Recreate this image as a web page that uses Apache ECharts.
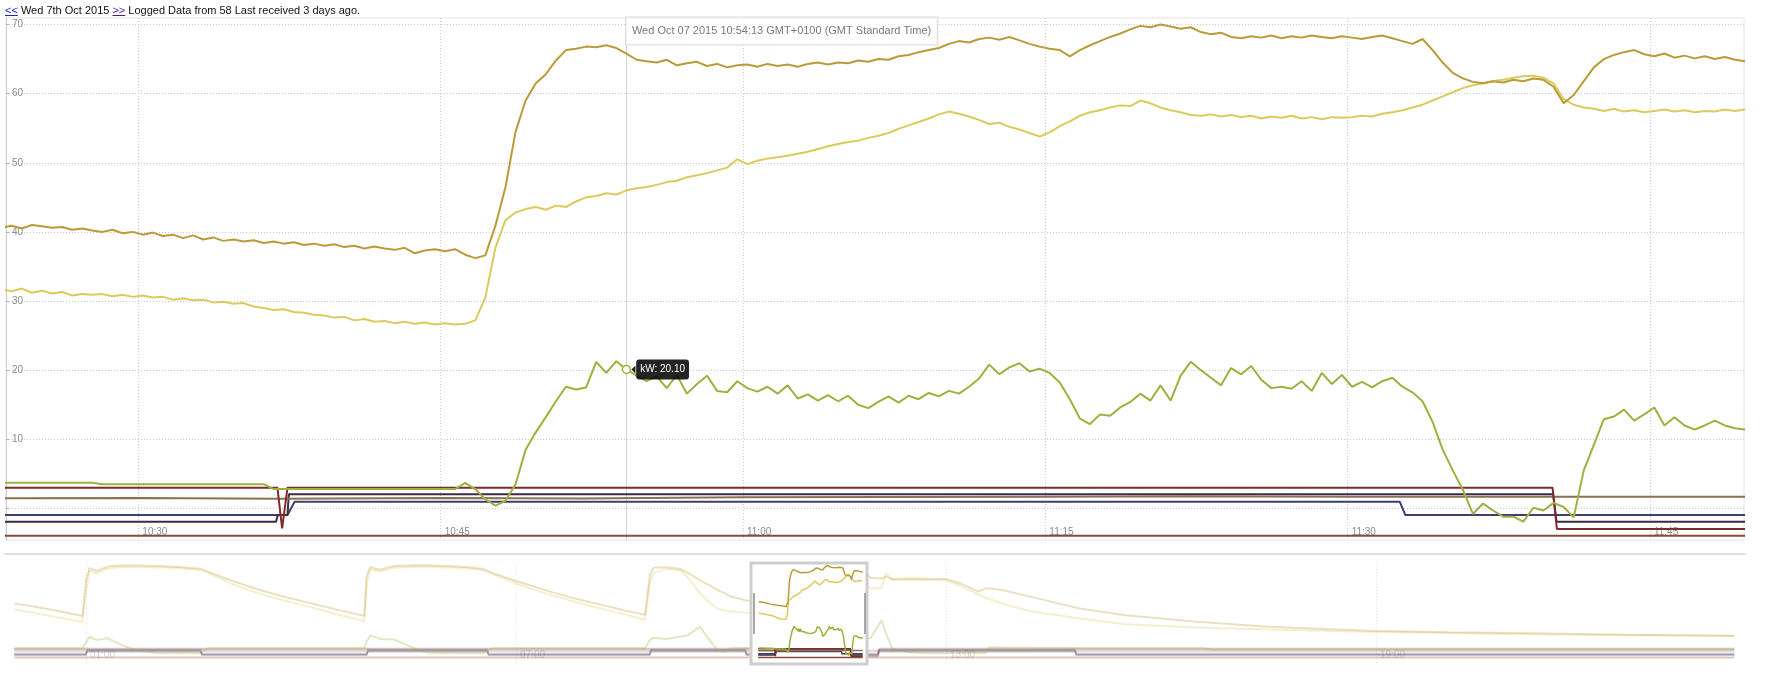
<!DOCTYPE html>
<html><head><meta charset="utf-8">
<script src="https://cdn.jsdelivr.net/npm/echarts@6/dist/echarts.min.js"></script>
<style>
html,body{margin:0;padding:0;background:#fff;}
#chart{position:absolute;left:0;top:0;width:1765px;height:674px;}
#hdr{position:absolute;left:5px;top:3px;font-family:'Liberation Sans',Arial,sans-serif;font-size:11px;line-height:14px;color:#111;white-space:nowrap;z-index:2;}
#hdr a{text-decoration:underline;}
</style></head><body>
<div id="chart"></div>
<div id="hdr"><a style="color:#2323b8">&lt;&lt;</a> Wed 7th Oct 2015 <a style="color:#551a8b">&gt;&gt;</a> Logged Data from 58 Last received 3 days ago.</div>
<script>
// ---------- main window data (30 s samples, local time BST) ----------
const times = [
'10:23:13','10:23:43','10:24:13','10:24:43','10:25:13','10:25:43','10:26:13','10:26:43','10:27:13','10:27:43',
'10:28:13','10:28:43','10:29:13','10:29:43','10:30:13','10:30:43','10:31:13','10:31:43','10:32:13','10:32:43',
'10:33:13','10:33:43','10:34:13','10:34:43','10:35:13','10:35:43','10:36:13','10:36:43','10:37:13','10:37:43',
'10:38:13','10:38:43','10:39:13','10:39:43','10:40:13','10:40:43','10:41:13','10:41:43','10:42:13','10:42:43',
'10:43:13','10:43:43','10:44:13','10:44:43','10:45:13','10:45:43','10:46:13','10:46:43','10:47:13','10:47:43',
'10:48:13','10:48:43','10:49:13','10:49:43','10:50:13','10:50:43','10:51:13','10:51:43','10:52:13','10:52:43',
'10:53:13','10:53:43','10:54:13','10:54:43','10:55:13','10:55:43','10:56:13','10:56:43','10:57:13','10:57:43',
'10:58:13','10:58:43','10:59:13','10:59:43','11:00:13','11:00:43','11:01:13','11:01:43','11:02:13','11:02:43',
'11:03:13','11:03:43','11:04:13','11:04:43','11:05:13','11:05:43','11:06:13','11:06:43','11:07:13','11:07:43',
'11:08:13','11:08:43','11:09:13','11:09:43','11:10:13','11:10:43','11:11:13','11:11:43','11:12:13','11:12:43',
'11:13:13','11:13:43','11:14:13','11:14:43','11:15:13','11:15:43','11:16:13','11:16:43','11:17:13','11:17:43',
'11:18:13','11:18:43','11:19:13','11:19:43','11:20:13','11:20:43','11:21:13','11:21:43','11:22:13','11:22:43',
'11:23:13','11:23:43','11:24:13','11:24:43','11:25:13','11:25:43','11:26:13','11:26:43','11:27:13','11:27:43',
'11:28:13','11:28:43','11:29:13','11:29:43','11:30:13','11:30:43','11:31:13','11:31:43','11:32:13','11:32:43',
'11:33:13','11:33:43','11:34:13','11:34:43','11:35:13','11:35:43','11:36:13','11:36:43','11:37:13','11:37:43',
'11:38:13','11:38:43','11:39:13','11:39:43','11:40:13','11:40:43','11:41:13','11:41:43','11:42:13','11:42:43',
'11:43:13','11:43:43','11:44:13','11:44:43','11:45:13','11:45:43','11:46:13','11:46:43','11:47:13','11:47:43',
'11:48:13','11:48:43','11:49:13','11:49:43','11:50:13'
];
const tempHigh = [
40.6,40.9,40.5,41.0,40.8,40.6,40.7,40.3,40.5,40.2,
40.0,40.3,39.8,40.0,39.6,39.9,39.4,39.6,39.1,39.5,
38.9,39.2,38.7,38.9,38.6,38.8,38.4,38.6,38.3,38.5,
38.1,38.3,38.0,38.2,37.8,38.0,37.6,37.9,37.6,37.4,
37.7,36.9,37.3,37.5,37.2,37.5,36.7,36.2,36.6,40.9,
46.5,54.5,59.0,61.5,62.8,64.8,66.3,66.5,66.8,66.7,
67.0,66.6,65.8,64.9,64.7,64.5,64.9,64.1,64.4,64.6,
64.0,64.3,63.8,64.1,64.2,63.9,64.3,64.0,64.2,63.9,
64.3,64.5,64.2,64.5,64.4,64.8,64.6,65.0,64.9,65.4,
65.6,66.0,66.3,66.6,67.2,67.6,67.4,67.9,68.1,67.8,
68.2,67.7,67.2,66.8,66.5,66.3,65.4,66.3,67.0,67.6,
68.2,68.7,69.3,69.8,69.6,70.0,69.7,69.4,69.6,68.9,
68.6,68.8,68.2,68.0,68.3,68.1,68.4,68.0,68.3,68.1,
68.4,68.2,68.0,68.3,68.1,67.9,68.2,68.4,68.0,67.6,
67.2,67.9,66.3,64.5,63.0,62.2,61.7,61.5,61.8,61.6,
62.0,61.8,62.2,62.0,61.0,58.6,59.8,61.8,63.8,65.0,
65.6,66.0,66.3,65.7,65.4,65.8,65.2,65.5,65.1,65.4,
65.0,65.3,64.9,64.7,64.6
];
const tempLow = [
31.7,31.4,31.8,31.2,31.5,31.1,31.3,30.8,31.0,30.9,
31.0,30.7,30.9,30.6,30.8,30.5,30.6,30.2,30.4,30.1,
30.2,29.8,29.9,29.6,29.7,29.2,29.0,28.7,28.8,28.4,
28.3,28.0,27.9,27.6,27.7,27.2,27.4,27.0,27.1,26.8,
27.0,26.7,26.9,26.6,26.8,26.6,26.7,27.2,30.5,37.7,
41.7,42.8,43.3,43.6,43.2,43.8,43.6,44.4,45.0,45.2,
45.6,45.4,46.0,46.3,46.5,46.8,47.2,47.4,47.9,48.2,
48.5,48.9,49.3,50.5,49.8,50.3,50.6,50.8,51.0,51.3,
51.6,52.0,52.4,52.7,53.0,53.2,53.6,53.9,54.3,54.9,
55.4,55.9,56.4,57.0,57.4,57.1,56.7,56.2,55.6,55.8,
55.2,54.8,54.3,53.8,54.4,55.3,56.0,56.8,57.3,57.6,
58.0,58.3,58.2,59.0,58.6,58.0,57.6,57.3,56.9,56.8,
57.0,56.7,56.9,56.6,56.8,56.4,56.7,56.5,56.8,56.4,
56.6,56.3,56.6,56.5,56.6,56.8,56.7,57.1,57.3,57.6,
58.0,58.4,59.0,59.6,60.2,60.8,61.2,61.5,61.8,62.0,
62.3,62.5,62.6,62.3,61.5,59.2,58.4,58.0,57.8,57.5,
57.8,57.4,57.6,57.3,57.5,57.7,57.4,57.6,57.3,57.5,
57.4,57.7,57.5,57.7,57.6
];
const kW = [
3.7,3.7,3.7,3.7,3.7,3.7,3.7,3.7,3.7,3.7,
3.5,3.5,3.5,3.5,3.5,3.5,3.5,3.5,3.5,3.5,
3.5,3.5,3.5,3.5,3.5,3.5,3.5,2.8,2.8,2.8,
2.8,2.8,2.8,2.8,2.8,2.8,2.8,2.8,2.8,2.8,
2.8,2.8,2.8,2.8,2.8,2.8,3.7,2.8,1.3,0.4,
1.1,3.5,8.5,11.0,13.2,15.5,17.6,17.2,17.5,21.2,
19.6,21.3,20.1,19.2,18.4,19.1,17.4,19.3,16.6,18.0,
19.2,17.0,16.8,18.4,17.4,16.9,17.6,16.6,17.8,15.9,
16.5,15.6,16.4,15.5,16.3,15.0,14.5,15.4,16.2,15.3,
16.3,15.8,16.7,16.2,17.0,16.6,17.6,18.8,20.8,19.4,
20.4,21.0,19.8,20.2,19.6,18.2,15.8,13.0,12.2,13.6,
13.4,14.6,15.4,16.6,15.6,17.8,15.6,19.2,21.2,20.0,
18.9,17.8,20.3,19.4,20.6,18.6,17.4,17.6,17.3,18.4,
17.0,19.6,18.0,19.3,17.6,18.3,17.5,18.4,18.9,17.6,
16.8,15.5,12.5,8.5,5.5,2.7,-0.8,0.7,-0.3,-1.2,
-1.2,-1.9,0.1,-0.3,0.8,0.2,-1.3,5.5,9.2,12.9,
13.3,14.3,12.7,13.6,14.6,12.0,13.2,12.0,11.4,12.0,
12.7,12.0,11.6,11.4,11.3
];
// step / status lines
const redTimes = ['10:22:43','10:36:54','10:37:08','10:37:24','11:40:10','11:40:23','11:50:13'];
const redVals = [3.0,3.0,-2.9,3.0,3.0,-2.98,-2.98];
const purpleTimes = ['10:22:43','10:36:50','10:36:55','10:37:24','10:37:28','11:40:12','11:40:22','11:50:13'];
const purpleVals = [-1.92,-1.92,-0.96,-0.96,2.04,2.04,-1.92,-1.92];
const navyTimes = ['10:22:43','10:37:24','10:37:45','11:32:35','11:32:52','11:50:13'];
const navyVals = [-0.96,-0.96,0.97,0.97,-0.96,-0.96];
const brownTimes = ['10:22:43','10:30:00','10:37:00','10:45:00','10:52:00','11:00:00','11:07:00','11:15:00','11:22:00','11:30:00','11:37:00','11:45:00','11:50:13'];
const brownVals = [1.45,1.5,1.4,1.5,1.45,1.6,1.65,1.7,1.75,1.7,1.7,1.7,1.7];
const baseTimes = ['10:22:43','11:50:13'];
const baseVals = [-3.97,-3.97];

// ---------- whole-day overview data ----------
const ovTimes = ['00:00','00:15','00:30','00:45','00:57','01:00','01:03','01:09','01:18','01:30','01:42','02:00','02:18','02:36','02:42','03:00','03:15','03:30','03:45','04:00','04:15','04:30','04:48','04:53','04:55','04:58','05:06','05:18','05:36','05:48','06:00','06:18','06:33','06:40','07:00','07:15','07:30','07:45','08:00','08:15','08:30','08:48','08:52','08:55','09:06','09:18','09:24','09:34','09:42','09:49','09:54','10:00','10:12','10:23','10:45','10:49','11:00','11:20','11:35','11:40','11:50','11:57','12:06','12:10','12:15','12:30','12:45','13:00','13:12','13:27','13:33','13:36','13:48','14:12','14:52','15:30','16:30','16:36','16:42','17:30','18:54','20:00','21:24','22:30','24:00'];
const ovHigh = [39.4,37.2,34.6,31.8,29.3, 58.0,68.0,65.5,69.0,70.0, 69.8,69.4,68.6,67.2,65.0, 58.5,53.5,49.0,45.0,41.5, 38.0,34.5,30.6,29.6,62.0, 68.5,66.5,69.5,70.0,69.8, 69.5,68.6,67.0,64.0,57.5, 53.0,48.5,44.5,41.0,37.5, 34.0,30.3,62.0,68.0,68.5, 67.0,64.0,58.0,54.0,50.0, 48.0,45.0,42.0,40.6,37.5, 62.0,64.2,69.6,63.0,61.0, 64.6,60.0,59.5,61.0,59.0, 59.5,59.2,59.0,55.5,49.0, 51.5,51.6,50.0,44.5,35.4, 30.0,24.7,24.4,24.0,20.8, 17.5,16.3,15.4,14.4,13.5];
const ovLow = [34.5,32.2,29.4,26.8,24.6, 48.0,66.0,63.5,67.5,68.8, 68.6,68.4,67.6,66.2,64.0, 56.0,50.5,46.0,42.0,38.3, 34.8,30.8,26.6,25.2,55.0, 67.0,65.0,68.0,69.0,68.8, 68.5,67.6,66.0,63.0,55.5, 50.5,46.0,42.0,38.0,34.5, 31.0,26.3,55.0,64.0,67.0, 66.0,60.0,47.6,40.0,35.0, 34.0,33.0,32.0,31.5,26.8, 43.5,50.0,58.6,60.2,61.5, 57.6,51.0,52.0,64.0,58.0, 58.5,58.2,58.0,53.5,46.5, 44.0,43.0,39.0,33.0,27.4, 22.8,20.2,20.0,19.8,18.6, 16.8,15.8,14.6,14.0,13.3];
const ovKW = [3.5,3.5,3.5,3.5,3.5, 8.0,12.7,10.0,11.5,6.0, 2.0,-0.5,-0.3,-0.5,3.5, 3.5,3.5,3.5,3.5,3.5, 3.5,3.5,3.5,3.5,9.0, 13.7,11.0,10.5,3.0,-0.5, -0.4,-0.5,-0.5,3.5,3.5, 3.5,3.5,3.5,3.5,3.5, 3.5,3.5,10.0,12.0,11.0, 13.0,14.0,20.7,10.0,2.0, 0.5,3.5,3.6,3.7,2.8, 9.7,17.4,15.6,6.5,0.0, 11.3,12.0,26.0,15.0,3.0, 0.0,-0.6,-0.5,-0.3,-0.4, -0.5,4.3,4.0,3.8,3.6, 3.5,3.5,3.5,2.3,2.3, 2.3,2.3,2.3,2.3,2.3];
const ovStepTimes = ['00:00','01:00','01:01','02:36','02:37','04:55','04:56','06:36','06:37','08:52','08:53','10:12','10:13','12:03','12:04','14:48','14:49','24:00'];
const ovPurple = [-1.92,-1.92,2.04,2.04,-1.92,-1.92,2.04,2.04,-1.92,-1.92,2.04,2.04,-1.92,-1.92,2.04,2.04,-1.92,-1.92];
const ovNavy = [-0.96,-0.96,0.97,0.97,-0.96,-0.96,0.97,0.97,-0.96,-0.96,0.97,0.97,-0.96,-0.96,0.97,0.97,-0.96,-0.96];
const ovRedTimes = ['00:00','11:40','11:41','12:03','12:04','24:00'];
const ovRed = [3.0,3.0,-2.98,-2.98,3.0,3.0];
const ovFlatTimes = ['00:00','24:00'];
const ovBrown = [1.5,1.5];
const ovBase = [-3.97,-3.97];

// hover state
const hoverTime = '10:54:13';
const hoverDateText = 'Wed Oct 07 2015 10:54:13 GMT+0100 (GMT Standard Time)';

// ---------- helpers ----------
function ts(hms, day) { const p = hms.split(':').map(Number); return Date.UTC(2015, 9, day || 7, p[0] - 1, p[1], p[2] || 0); }
function zip(tArr, vArr) { return tArr.map(function (t, i) { return [ts(t), vArr[i]]; }); }
function pad(n) { return (n < 10 ? '0' : '') + n; }
function fmtHM(v) { const d = new Date(v + 3600000); return pad(d.getUTCHours()) + ':' + pad(d.getUTCMinutes()); }

const C = {high:'#b99b39', low:'#dccb5c', kw:'#a0b040', red:'#7d2b2b', purple:'#3d2b45', navy:'#3e3e70', brown:'#8b7150', base:'#8a4a38'};
const xMin = ts('10:23:26'), xMax = ts('11:49:40');
const yMin = -4.57, yMax = 70.94;
const ovMin = ts('23:53:03', 6), ovMax = ts('00:08:03', 8);
const ovYMin = -9.15, ovYMax = 71.9;

const hoverValue = kW[times.indexOf(hoverTime)];
const hoverLabel = 'kW: ' + hoverValue.toFixed(2);

const mainDefs = [
  {t: baseTimes, v: baseVals, c: C.base},
  {t: navyTimes, v: navyVals, c: C.navy},
  {t: purpleTimes, v: purpleVals, c: C.purple},
  {t: brownTimes, v: brownVals, c: C.brown},
  {t: redTimes, v: redVals, c: C.red},
  {t: times, v: kW, c: C.kw, hover: true},
  {t: times, v: tempLow, c: C.low},
  {t: times, v: tempHigh, c: C.high}
];
const ovDefs = [
  {t: ovFlatTimes, v: ovBase, c: C.base},
  {t: ovStepTimes, v: ovNavy, c: C.navy},
  {t: ovStepTimes, v: ovPurple, c: C.purple},
  {t: ovFlatTimes, v: ovBrown, c: C.brown},
  {t: ovRedTimes, v: ovRed, c: C.red},
  {t: ovTimes, v: ovKW, c: C.kw},
  {t: ovTimes, v: ovLow, c: C.low},
  {t: ovTimes, v: ovHigh, c: C.high}
];

function line(data, color, idx, width, opacity, z) {
  return {type:'line', xAxisIndex: idx, yAxisIndex: idx, data: data, symbol:'none', showSymbol:false, silent:true, z: z,
    lineStyle:{color: color, width: width, opacity: opacity}, itemStyle:{color: color}, emphasis:{disabled:true}};
}

const series = [];
// main chart
mainDefs.forEach(function (d) {
  const s = line(zip(d.t, d.v), d.c, 0, 2, 1, 2);
  if (d.hover) {
    s.markLine = {silent:true, z:1, symbol:['none','none'], label:{show:false}, animation:false,
      lineStyle:{color:'#d4d4d4', type:'solid', width:1}, data:[{xAxis: ts(hoverTime)}]};
    s.markPoint = {silent:true, z:10, animation:false, data:[
      {coord:[ts(hoverTime), hoverValue], symbol:'circle', symbolSize:8,
        itemStyle:{color:'#fff', borderColor:C.kw, borderWidth:1.5},
        label:{show:true, position:'right', distance:5, formatter: hoverLabel, color:'#fff', fontSize:10,
          backgroundColor:'rgba(0,0,0,0.86)', borderRadius:3, padding:[5,4,5,4]}},
      {coord:[ts(hoverTime), hoverValue], symbol:'triangle', symbolSize:[8,4], symbolRotate:90, symbolOffset:[7,0],
        itemStyle:{color:'rgba(0,0,0,0.86)'}, label:{show:false}},
      {coord:[ts(hoverTime), yMax], symbol:'rect', symbolSize:1, itemStyle:{color:'rgba(0,0,0,0)'},
        label:{show:true, position:[0,0], formatter: hoverDateText, color:'#7a7a7a', fontSize:11,
          backgroundColor:'rgba(255,255,255,0.7)', borderColor:'#dcdcdc', borderWidth:1, padding:[8,6,8,6]}}
    ]};
  }
  series.push(s);
});
// overview: faded whole day
ovDefs.forEach(function (d) { series.push(line(zip(d.t, d.v), d.c, 1, 2, 0.3, 2)); });
// overview: selected window
mainDefs.forEach(function (d, i) {
  const s = line(zip(d.t, d.v), d.c, 1, 1.5, 1, 4);
  if (i === 0) {
    s.markArea = {silent:true, z:3, animation:false, label:{show:false},
      itemStyle:{color:'#ffffff', borderColor:'#cecece', borderWidth:3},
      data:[[{xAxis: ts('10:16:44')}, {xAxis: ts('11:53:53')}]]};
    s.markLine = {silent:true, z:5, animation:false, symbol:['none','none'], label:{show:false},
      lineStyle:{color:'#a8a8a8', width:2, type:'solid'},
      data:[[{coord:[ts('10:18:50'), 47.8]}, {coord:[ts('10:18:50'), 14.9]}],
            [{coord:[ts('11:52:12'), 47.8]}, {coord:[ts('11:52:12'), 14.9]}]]};
  }
  series.push(s);
});

const chart = echarts.init(document.getElementById('chart'), null, {renderer:'canvas'});
chart.setOption({
  useUTC: true,
  animation: false,
  textStyle: {fontFamily: "'Liberation Sans', Arial, sans-serif"},
  grid: [
    {left:6, right:21, top:18, bottom:134, show:true, borderColor:'#e4e4e4', borderWidth:1, backgroundColor:'rgba(0,0,0,0)'},
    {left:6, right:21, top:563, bottom:10},
    {left:5, right:20, top:553, height:1}
  ],
  xAxis: [
    {gridIndex:0, type:'time', min:xMin, max:xMax, minInterval:16*60000, maxInterval:16*60000,
      axisLine:{show:false}, axisTick:{show:false},
      axisLabel:{inside:true, align:'left', margin:3, padding:[0,0,0,4], color:'#8c8c8c', fontSize:10,
        showMinLabel:false, showMaxLabel:false, formatter:function (v) { return v % 900000 === 0 ? fmtHM(v) : ''; }},
      splitLine:{show:true, showMinLine:false, showMaxLine:false, lineStyle:{color:'#cbcbcb', width:1, type:[1,2]}}},
    {gridIndex:1, type:'time', min:ovMin, max:ovMax, minInterval:7*3600000, maxInterval:7*3600000,
      axisLine:{show:false}, axisTick:{show:false},
      axisLabel:{inside:true, align:'left', margin:4, padding:[0,0,0,4], color:'#d4d4d4', fontSize:10,
        showMinLabel:false, showMaxLabel:false, formatter:function (v) { return v % 21600000 === 0 ? fmtHM(v) : ''; }},
      splitLine:{show:true, showMinLine:false, showMaxLine:false, lineStyle:{color:'#e4e4e4', width:1, type:[1,2]}}},
    {gridIndex:2, type:'value', min:0, max:1, position:'top',
      axisLine:{show:true, lineStyle:{color:'#dedede', width:2}}, axisTick:{show:false}, axisLabel:{show:false}, splitLine:{show:false}}
  ],
  yAxis: [
    {gridIndex:0, type:'value', min:yMin, max:yMax, splitNumber:8,
      axisLine:{show:true, lineStyle:{color:'#cfcfcf'}},
      axisTick:{show:true, inside:true, length:3, lineStyle:{color:'#b4b4b4'}},
      axisLabel:{inside:true, margin:6, color:'#8c8c8c', fontSize:10, showMinLabel:false, showMaxLabel:false,
        formatter:function (v) { return (v > 0 && Math.abs(v % 10) < 1e-6) ? String(Math.round(v)) : ''; }},
      splitLine:{show:true, showMinLine:false, showMaxLine:false, lineStyle:{color:'#cbcbcb', width:1, type:[1,2]}}},
    {gridIndex:1, type:'value', min:ovYMin, max:ovYMax, show:false, splitLine:{show:false}},
    {gridIndex:2, type:'value', min:0, max:1, show:false, splitLine:{show:false}}
  ],
  series: series
});
</script>
</body></html>
